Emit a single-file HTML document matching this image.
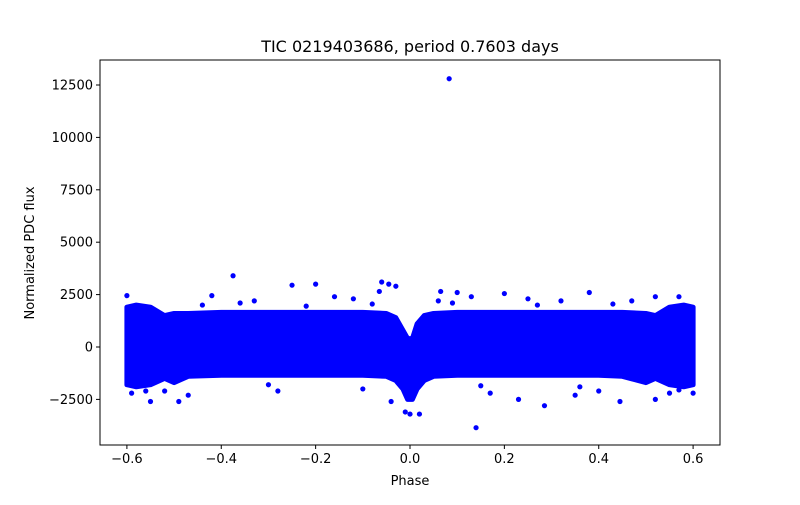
<!DOCTYPE html>
<html><head><meta charset="utf-8"><style>
html,body{margin:0;padding:0;background:#fff;}
svg text{font-family:"DejaVu Sans","Liberation Sans",sans-serif;fill:#000;}
</style></head><body>
<svg id="chart" width="800" height="500" xmlns="http://www.w3.org/2000/svg">
<rect x="0" y="0" width="800" height="500" fill="#fff"/>
<text x="410" y="52" font-size="16" text-anchor="middle">TIC 0219403686, period 0.7603 days</text>
<g id="marks"></g>
<rect x="100" y="60" width="620" height="385" fill="none" stroke="#000" stroke-width="1"/>
<g id="xaxis"></g>
<g id="yaxis"></g>
<text x="410" y="485" font-size="13" text-anchor="middle">Phase</text>
<text x="0" y="0" font-size="13" text-anchor="middle" transform="translate(34,253) rotate(-90)">Normalized PDC flux</text>
</svg>
<script>
const xTicks=[-0.6,-0.4,-0.2,0.0,0.2,0.4,0.6];
const xTickLabels=["\u22120.6","\u22120.4","\u22120.2","0.0","0.2","0.4","0.6"];
const yTicks=[-2500,0,2500,5000,7500,10000,12500];
const yTickLabels=["\u22122500","0","2500","5000","7500","10000","12500"];
const bandPhase=[-0.6,-0.58,-0.55,-0.52,-0.5,-0.47,-0.4,-0.3,-0.2,-0.1,-0.05,-0.03,-0.015,-0.005,0.005,0.015,0.03,0.05,0.1,0.2,0.3,0.4,0.45,0.5,0.52,0.55,0.58,0.6];
const bandUpper=[1900,2000,1900,1500,1600,1600,1650,1650,1650,1650,1600,1400,800,400,400,1100,1500,1600,1650,1650,1650,1650,1650,1600,1500,1900,2000,1900];
const bandLower=[-1800,-1900,-1800,-1500,-1700,-1400,-1350,-1350,-1350,-1350,-1400,-1600,-2000,-2500,-2500,-2000,-1600,-1400,-1350,-1350,-1350,-1350,-1400,-1700,-1500,-1800,-1900,-1800];
const outPhase=[0.083,0.14,-0.375,-0.06,-0.045,-0.03,-0.2,-0.25,-0.065,0.065,0.1,0.285,-0.6,-0.55,-0.49,0.52,0.445,0.0,-0.01,0.02,-0.04,0.23,0.35,0.57,0.52,0.38,0.2,-0.42,-0.16,0.6,-0.59,-0.33,-0.12,0.06,0.13,0.25,0.32,0.47,-0.47,-0.28,0.17,0.55,-0.52,-0.1,0.4,-0.44,-0.36,-0.22,-0.08,0.09,0.27,0.43,-0.56,0.57,-0.3,0.15,0.36];
const outFlux=[12800,-3850,3400,3100,3000,2900,3000,2950,2650,2650,2600,-2800,2450,-2600,-2600,-2500,-2600,-3200,-3100,-3200,-2600,-2500,-2300,2400,2400,2600,2550,2450,2400,-2200,-2200,2200,2300,2200,2400,2300,2200,2200,-2300,-2100,-2200,-2200,-2100,-2000,-2100,2000,2100,1950,2050,2100,2000,2050,-2100,-2050,-1800,-1850,-1900];
const W=800,L=100,R=720,T=60,B=445;
const xMin=-0.657,xMax=0.657,yMin=-4676,yMax=13693;
const sx=v=>L+(v-xMin)/(xMax-xMin)*(R-L);
const sy=v=>B-(v-yMin)/(yMax-yMin)*(B-T);
const NS="http://www.w3.org/2000/svg";
function mk(t,a,p){const e=document.createElementNS(NS,t);for(const k in a)e.setAttribute(k,a[k]);p.appendChild(e);return e;}
const marks=document.getElementById('marks');
let d="";
bandPhase.forEach((p,i)=>{d+=(i?"L":"M")+sx(p).toFixed(1)+","+sy(bandUpper[i]).toFixed(1);});
for(let i=bandPhase.length-1;i>=0;i--){d+="L"+sx(bandPhase[i]).toFixed(1)+","+sy(bandLower[i]).toFixed(1);}
d+="Z";
const band=mk('path',{d:d,fill:'#0000ff',stroke:'#0000ff','stroke-width':5,'stroke-linejoin':'round'},marks);


outPhase.forEach((p,i)=>{
 const c=mk('circle',{cx:sx(p),cy:sy(outFlux[i]),r:2.6,fill:'#0000ff'},marks);
 
 
});
const xa=document.getElementById('xaxis');
xTicks.forEach((v,i)=>{
 const x=sx(v);
 const tk=mk('line',{x1:x,x2:x,y1:B,y2:B+4,stroke:'#000'},xa);
 
 
 const t=mk('text',{x:x,y:B+18,'font-size':13,'text-anchor':'middle'},xa);
 t.textContent=xTickLabels[i];
 
 
});
const ya=document.getElementById('yaxis');
yTicks.forEach((v,i)=>{
 const y=sy(v);
 const tk=mk('line',{x1:L-4,x2:L,y1:y,y2:y,stroke:'#000'},ya);
 
 
 const t=mk('text',{x:L-7,y:y+4.5,'font-size':13,'text-anchor':'end'},ya);
 t.textContent=yTickLabels[i];
 
 
});
</script>
</body></html>
